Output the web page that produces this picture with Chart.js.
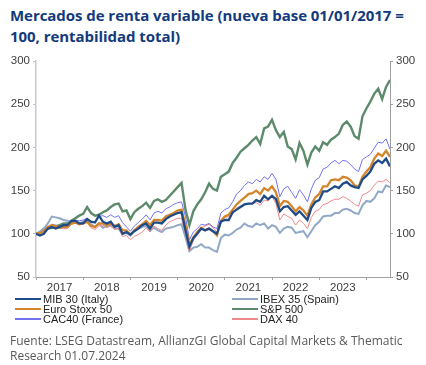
<!DOCTYPE html>
<html><head><meta charset="utf-8">
<script src="https://cdn.jsdelivr.net/npm/chart.js@4.4.1/dist/chart.umd.min.js"></script>
<style>
html,body{margin:0;padding:0;background:#fff;width:426px;height:365px;overflow:hidden;}
#title{position:absolute;left:10px;top:5px;font:700 15px "Open Sans";letter-spacing:-0.05px;color:#133a7c;line-height:21px;white-space:nowrap;}
#wrap{position:absolute;left:0;top:50px;width:426px;height:245px;}
#legend{position:absolute;top:0;left:0;width:426px;height:365px;font:11px "Liberation Sans";color:#222;}
.item{position:absolute;height:10px;line-height:10px;white-space:nowrap;}
.sw{display:inline-block;width:26px;height:0;border-top:2px solid;vertical-align:middle;margin-right:2px;position:relative;top:-1px;}
#source{position:absolute;left:10px;top:333px;font:12px "Open Sans";color:#595959;line-height:15px;white-space:nowrap;}
</style></head>
<body>
<div id="title">Mercados de renta variable (nueva base 01/01/2017 =<br>100, rentabilidad total)</div>
<div id="wrap"><canvas id="c" width="426" height="245"></canvas></div>
<div id="legend"></div>
<div id="source">Fuente: LSEG Datastream, AllianzGI Global Capital Markets &amp; Thematic<br>Research 01.07.2024</div>
<script>
const months = [
"2017-01","2017-02","2017-03","2017-04","2017-05","2017-06","2017-07","2017-08","2017-09","2017-10","2017-11","2017-12",
"2018-01","2018-02","2018-03","2018-04","2018-05","2018-06","2018-07","2018-08","2018-09","2018-10","2018-11","2018-12",
"2019-01","2019-02","2019-03","2019-04","2019-05","2019-06","2019-07","2019-08","2019-09","2019-10","2019-11","2019-12",
"2020-01","2020-02","2020-03","2020-04","2020-05","2020-06","2020-07","2020-08","2020-09","2020-10","2020-11","2020-12",
"2021-01","2021-02","2021-03","2021-04","2021-05","2021-06","2021-07","2021-08","2021-09","2021-10","2021-11","2021-12",
"2022-01","2022-02","2022-03","2022-04","2022-05","2022-06","2022-07","2022-08","2022-09","2022-10","2022-11","2022-12",
"2023-01","2023-02","2023-03","2023-04","2023-05","2023-06","2023-07","2023-08","2023-09","2023-10","2023-11","2023-12",
"2024-01","2024-02","2024-03","2024-04","2024-05","2024-06","2024-07"];

const mib30 = [
100,98,100,106,108,106,108,110,110,115,115,112,
112,117,114,113,121,114,112,114,108,110,100,102,
99,103,106,110,112,106,113,113,112,117,120,122,
124,125,104,85,95,100,106,104,106,103,100,114,
116,116,125,128,131,134,135,135,139,137,144,140,
144,140,126,131,132,127,122,126,121,116,130,137,
139,149,149,152,155,153,158,160,156,154,153,163,
167,172,181,185,182,187,178];

const euroStoxx50 = [
100,101,103,108,110,109,107,108,108,112,113,111,
112,114,109,108,112,112,110,112,109,111,104,104,
99,104,108,111,115,110,116,116,115,120,122,124,
127,128,110,87,96,102,107,104,106,103,98,115,
120,122,128,134,138,142,146,147,150,146,153,150,
155,148,132,138,137,132,126,131,127,121,134,142,
146,155,155,162,163,162,166,165,162,156,154,166,
172,177,187,193,190,196,189];

const cac40 = [
100,101,104,107,111,110,108,109,109,114,116,115,
116,118,114,113,120,121,119,122,119,121,113,108,
103,109,113,117,122,116,124,126,124,129,131,134,
136,137,120,93,102,106,111,110,112,108,106,124,
128,130,137,146,150,156,160,158,163,160,166,163,
170,163,143,152,155,148,141,151,145,137,152,162,
165,175,177,182,185,181,185,184,180,175,172,186,
189,192,199,206,205,210,198];

const ibex35 = [
100,102,106,112,120,119,118,116,115,114,113,112,
114,117,111,108,112,107,109,110,106,106,100,101,
98,104,106,108,109,104,107,104,102,106,107,108,
110,111,96,80,84,85,88,84,84,81,79,95,
99,98,101,105,107,112,109,108,112,110,112,106,
110,108,101,106,108,107,101,102,103,96,103,110,
114,120,121,121,124,124,128,129,127,124,123,133,
138,137,141,149,148,156,154];

const sp500 = [
100,102,106,106,107,109,110,112,112,115,118,121,
123,131,124,121,122,125,127,131,134,135,126,127,
117,125,129,132,136,130,138,140,137,139,144,149,
154,159,128,110,126,134,140,148,158,152,150,166,
169,172,182,188,195,199,203,208,212,204,222,224,
232,220,212,218,201,198,186,205,196,180,194,201,
196,206,203,209,212,216,226,230,224,213,210,236,
245,253,262,268,256,270,278];

const dax40 = [
100,101,103,107,109,108,107,106,106,111,112,111,
112,113,107,105,109,110,107,109,105,106,97,98,
93,97,99,102,107,102,109,106,104,110,114,116,
118,118,100,80,92,100,107,109,111,107,102,115,
119,120,123,130,132,134,135,135,136,133,139,138,
143,135,116,123,120,118,110,116,112,106,119,126,
128,134,135,138,140,140,143,141,138,134,132,145,
147,150,156,161,160,163,159];

const yearTicks = [2017,2018,2019,2020,2021,2022,2023,2024];
const yTicks = [50,100,150,200,250,300];

const xs = months.map(m => { const [y, mo] = m.split('-').map(Number); return y + (mo - 1) / 12; });

const series = [
  {label:'MIB 30 (Italy)', data:mib30, color:'#1f4b86', width:2.3, order:1, col:0, row:0},
  {label:'Euro Stoxx 50', data:euroStoxx50, color:'#d4852c', width:2.3, order:2, col:0, row:1},
  {label:'CAC40 (France)', data:cac40, color:'#7373f0', width:1, order:3, col:0, row:2},
  {label:'IBEX 35 (Spain)', data:ibex35, color:'#91a9c6', width:2, order:5, col:1, row:0},
  {label:'S&P 500', data:sp500, color:'#5d8a6b', width:2.4, order:6, col:1, row:1},
  {label:'DAX 40', data:dax40, color:'#f08a8a', width:1, order:4, col:1, row:2}
];

const tickFont = {family:'"Liberation Sans", Arial, sans-serif', size:11.5};
const tickColor = '#404040';

new Chart(document.getElementById('c'), {
  type:'line',
  data:{
    labels: xs,
    datasets: series.map(s => ({
      label:s.label, data:s.data, borderColor:s.color, backgroundColor:s.color,
      borderWidth:s.width, pointRadius:0, tension:0, order:s.order, yAxisID:'y'
    }))
  },
  options:{
    responsive:false, animation:false, devicePixelRatio:1,
    layout:{padding:{top:11, left:0, right:0, bottom:0}},
    plugins:{legend:{display:false}, tooltip:{enabled:false}},
    scales:{
      x:{
        type:'linear', min:2017, max:2024.5,
        afterBuildTicks: sc => { sc.ticks = yearTicks.map(v => ({value:v})); },
        afterFit: sc => { sc.height = 18; },
        grid:{display:true, drawOnChartArea:false, drawTicks:true, tickLength:3, color:'#a0a0a0'},
        border:{display:true, color:'#a0a0a0', width:1},
        ticks:{font:tickFont, color:tickColor, padding:1, labelOffset:23.6, maxRotation:0, autoSkip:false,
          callback: v => (v < 2024 ? String(v) : '')}
      },
      y:{
        position:'left', min:50, max:300,
        afterBuildTicks: sc => { sc.ticks = yTicks.map(v => ({value:v})); },
        afterFit: sc => { sc.width = 36; },
        grid:{display:true, drawOnChartArea:false, drawTicks:true, tickLength:3, color:'#b9c3cd'},
        border:{display:true, color:'#c3ccd5', width:1.5},
        ticks:{font:tickFont, color:tickColor, padding:3}
      },
      y2:{
        position:'right', min:50, max:300,
        afterBuildTicks: sc => { sc.ticks = yTicks.map(v => ({value:v})); },
        afterFit: sc => { sc.width = 36; },
        grid:{display:true, drawOnChartArea:false, drawTicks:true, tickLength:3, color:'#a0a0a0'},
        border:{display:true, color:'#a0a0a0', width:1},
        ticks:{font:tickFont, color:tickColor, padding:3}
      }
    }
  }
});

const leg = document.getElementById('legend');
const colX = [15, 232], rowY = [294, 304, 314];
series.forEach(s => {
  const d = document.createElement('div');
  d.className = 'item';
  d.style.left = colX[s.col] + 'px';
  d.style.top = rowY[s.row] + 'px';
  const sw = document.createElement('span');
  sw.className = 'sw';
  sw.style.borderTopColor = s.color;
  d.appendChild(sw);
  d.appendChild(document.createTextNode(s.label));
  leg.appendChild(d);
});
</script>
</body></html>
